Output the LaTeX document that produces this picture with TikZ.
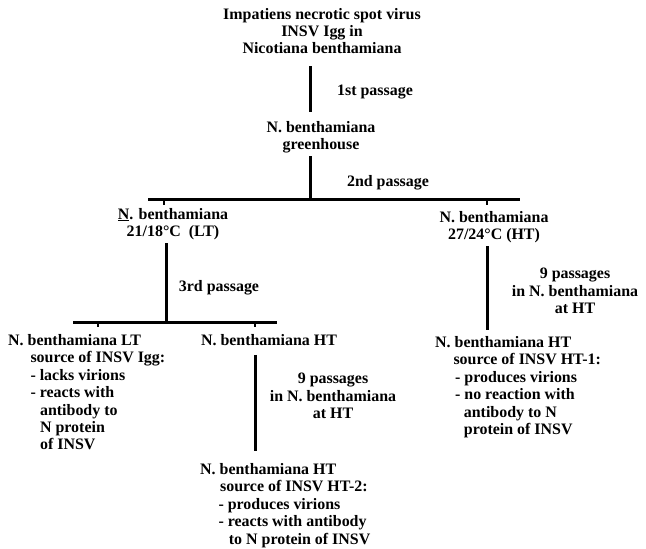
\documentclass[tikz,border=0pt]{standalone}
\usepackage{fontspec}
\setmainfont{Liberation Serif}
\usetikzlibrary{positioning}

\begin{document}
\begin{tikzpicture}[
    x=1bp, y=-1bp,
    txt/.style={font=\bfseries\fontsize{16}{17.5}\selectfont, align=center, inner sep=0pt},
    note/.style={txt, align=left, anchor=north west},
    link/.style={line width=3bp},
    stub/.style={line width=2bp}
]
\useasboundingbox (0,0) rectangle (646,549);

% junctions on the two bars
\coordinate (j1) at (310,200);
\coordinate (s1) at (164,200);
\coordinate (s2) at (487,200);
\coordinate (j2) at (166,322);
\coordinate (s3) at (98,322);
\coordinate (s4) at (255,322);

\node[txt] (virus) at (322,31) {Impatiens necrotic spot virus\\INSV Igg in\\Nicotiana benthamiana};
\node[txt] (gh) at (321,137) {N. benthamiana\\greenhouse};
\node[txt] (lt) at (173,224) {\underline{N}. benthamiana\\21/18°C\ \ (LT)};
\node[txt] (ht) at (494,227) {N. benthamiana\\27/24°C (HT)};
\node[txt] (htmid) at (269,340) {N. benthamiana HT};

\node[txt] (pass1) at (375,92) {1st passage};
\node[txt] (pass2) at (388,183) {2nd passage};
\node[txt] (pass3) at (219,288) {3rd passage};
\node[txt] (nineA) at (333,396) {9 passages\\in N. benthamiana\\at HT};
\node[txt] (nineB) at (575,291) {9 passages\\in N. benthamiana\\at HT};

\node[note] (ltsrc) at (8,334) {N. benthamiana LT\\
  \hspace*{1.4em}source of INSV Igg:\\
  \hspace*{1.4em}- lacks virions\\
  \hspace*{1.4em}- reacts with\\
  \hspace*{2em}antibody to\\
  \hspace*{2em}N protein\\
  \hspace*{2em}of INSV};
\node[note] (ht1) at (435,336) {N. benthamiana HT\\
  \hspace*{1.15em}source of INSV HT-1:\\
  \hspace*{1.25em}- produces virions\\
  \hspace*{1.25em}- no reaction with\\
  \hspace*{1.8em}antibody to N\\
  \hspace*{1.8em}protein of INSV};
\node[note] (ht2) at (200,463) {N. benthamiana HT\\
  \hspace*{1.25em}source of INSV HT-2:\\
  \hspace*{1.15em}- produces virions\\
  \hspace*{1.15em}- reacts with antibody\\
  \hspace*{1.8em}to N protein of INSV};

\draw[link, shorten <=12bp, shorten >=9bp] (virus.south -| j1) -- (gh.north -| j1);
\draw[link, shorten <=3bp] (gh.south -| j1) -- (j1);
\draw[link] (148,200) -- (520,200);
\draw[stub] (s1) -- ++(0,5);
\draw[stub] (s2) -- ++(0,5);
\draw[link, shorten <=3bp] (lt.south -| j2) -- (j2);
\draw[link, shorten <=3bp, shorten >=6bp] (ht.south -| s2) -- (ht1.north -| s2);
\draw[link] (73,322) -- (277,322);
\draw[stub] (s3) -- ++(0,5);
\draw[stub] (s4) -- ++(0,5);
\draw[link, shorten <=9bp, shorten >=12bp] (htmid.south -| s4) -- (ht2.north -| s4);
\end{tikzpicture}
\end{document}
